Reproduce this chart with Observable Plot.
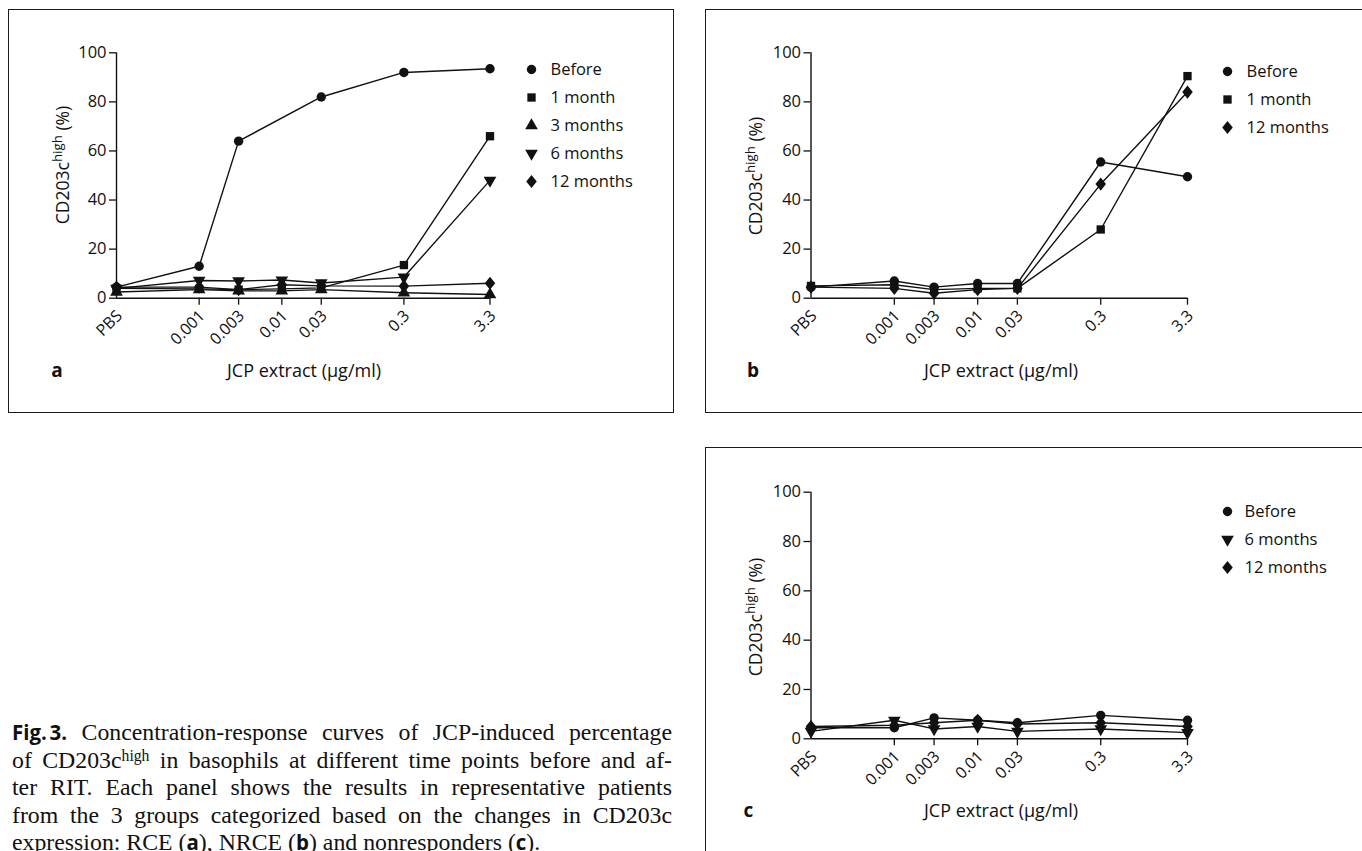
<!DOCTYPE html>
<html><head><meta charset="utf-8">
<script src="https://cdn.jsdelivr.net/npm/d3@7"></script>
<script src="https://cdn.jsdelivr.net/npm/@observablehq/plot@0.6"></script>
<style>
html,body{margin:0;padding:0;background:#fff}
body{width:1362px;height:851px;overflow:hidden;position:relative;font-family:"Open Sans",sans-serif;color:#111}
.box{position:absolute;border:1.6px solid #1a1a1a;box-sizing:border-box}
.ctr{position:absolute;transform:translate(-50%,-50%);white-space:nowrap}
.ytitle{position:absolute;transform:translate(-50%,-50%) rotate(-90deg);white-space:nowrap;font-size:17.5px}
.ytitle sup{font-size:0.76em;vertical-align:0.5em;line-height:0}
.xtitle{font-size:18px}
.letter{font-size:19px;font-weight:700}
.cap{position:absolute;left:12px;width:660px;font-family:"Liberation Serif",serif;font-size:23.8px;color:#111}
.cap div{height:27.5px;line-height:27.5px;white-space:nowrap;text-align:justify;text-align-last:justify}
.cap div.last{text-align-last:left}
.cap b{font-family:"Open Sans",sans-serif;font-weight:700;font-size:0.86em}
.cap sup{font-size:0.66em;vertical-align:0.45em;line-height:0}
</style></head><body>
<script>
// ---------- data ----------
const doseLabels = ["PBS", "0.001", "0.003", "0.01", "0.03", "0.3", "3.3"];
const doseConc   = [0, 0.001, 0.003, 0.01, 0.03, 0.3, 3.3];
const yTicks = [0, 20, 40, 60, 80, 100];

// panel a (RCE)
const seriesA = ["Before", "1 month", "3 months", "6 months", "12 months"];
const aBefore = [4.5, 13, 64, null, 82, 92, 93.5];
const a1Month = [4, 3.8, 3.5, 3.8, 4.2, 13.5, 66];
const a3Month = [2.5, 3.5, 3, 3, 3.5, 2.2, 1.5];
const a6Month = [4, 7.2, 7, 7.4, 6.2, 8.6, 48];
const a12Month = [4.5, 4.5, 3.5, 5.5, 5, 4.9, 6.1];

// panel b (NRCE)
const seriesB = ["Before", "1 month", "12 months"];
const bBefore = [4.5, 7, 4.5, 6, 6, 55.5, 49.5];
const b1Month = [5, 5.5, 3.5, 4, 4, 28, 90.5];
const b12Month = [4.5, 4, 2, 3.5, 4, 46.5, 84];

// panel c (nonresponders)
const seriesC = ["Before", "6 months", "12 months"];
const cBefore = [4.5, 4.5, 8.5, 7.5, 6.5, 9.5, 7.5];
const c6Month = [3, 7.5, 4, 5, 3, 4, 2.5];
const c12Month = [5, 5.5, 6.5, 7.5, 6, 6.5, 5];

const xTitle = "JCP extract (\u00b5g/ml)";

// ---------- helpers ----------
const triangleDown = {
  draw(context, size) {
    const y = -Math.sqrt(size / (3 * Math.sqrt(3)));
    context.moveTo(0, -y * 2);
    context.lineTo(-Math.sqrt(3) * y, y);
    context.lineTo(Math.sqrt(3) * y, y);
    context.closePath();
  }
};
const diamondWide = {
  draw(context, size) {
    const h = Math.sqrt(size / 1.6);
    const w = 0.8 * h;
    context.moveTo(0, -h);
    context.lineTo(w, 0);
    context.lineTo(0, h);
    context.lineTo(-w, 0);
    context.closePath();
  }
};
const symbolOf = {"Before": "circle", "1 month": "square", "3 months": "triangle", "6 months": triangleDown, "12 months": diamondWide};

const pbsPos = doseConc[1] / 10;               // PBS placed one decade below the lowest dose
const xPos = c => (c === 0 ? pbsPos : c);
const tickRows = doseConc.map((c, i) => ({x: xPos(c), label: doseLabels[i]}));
const FONT = "'Open Sans', sans-serif";

function el(cls, html, css) {
  const d = document.createElement("div");
  d.className = cls; d.innerHTML = html;
  Object.assign(d.style, css);
  document.body.appendChild(d);
  return d;
}

function drawPanel(g) {
  const rows = [];
  g.series.forEach((s, i) => g.values[i].forEach((v, j) => {
    if (v != null) rows.push({series: s, x: xPos(doseConc[j]), y: v});
  }));
  const mR = 20, mB = 70;
  const chart = Plot.plot({
    width: g.x1 - g.left + mR,
    height: g.yBottom - g.top + mB,
    marginLeft: g.x0 - g.left, marginRight: mR,
    marginTop: g.yTop - g.top, marginBottom: mB,
    style: {fontFamily: FONT, fontSize: "16px", color: "#111", background: "transparent", overflow: "visible"},
    x: {type: "log", domain: [pbsPos, doseConc[doseConc.length - 1]]},
    y: {domain: [0, 100]},
    symbol: {domain: g.series, range: g.series.map(s => symbolOf[s])},
    marks: [
      Plot.ruleY([0], {stroke: "#111", strokeWidth: 1.4}),
      Plot.ruleX([pbsPos], {stroke: "#111", strokeWidth: 1.4}),
      Plot.axisY({ticks: yTicks, tickSize: 7, tickPadding: 3, label: null, fontSize: 16.5, strokeWidth: 1.3}),
      Plot.axisX({ticks: tickRows.slice(1).map(d => d.x), tickSize: 7, tickFormat: () => "", label: null, strokeWidth: 1.3}),
      Plot.text(tickRows, {x: "x", text: "label", frameAnchor: "bottom", rotate: -45, textAnchor: "end",
        lineAnchor: "middle", dx: 3, dy: 15, fontSize: 16}),
      Plot.line(rows, {x: "x", y: "y", z: "series", stroke: "#111", strokeWidth: 1.4}),
      Plot.dot(rows, {x: "x", y: "y", symbol: "series", fill: "#111", stroke: "none", r: 4.7})
    ]
  });
  chart.style.position = "absolute";
  chart.style.left = g.left + "px";
  chart.style.top = g.top + "px";
  document.body.appendChild(chart);

  // legend drawn with Plot's own point + symbol scales
  const n = g.series.length, padT = 14;
  const lg = Plot.plot({
    width: 150, height: padT * 2 + (n - 1) * g.legendStep,
    margin: 0,
    style: {fontFamily: FONT, fontSize: "16px", color: "#111", background: "transparent", overflow: "visible"},
    x: {axis: null},
    y: {type: "point", padding: 0, domain: g.series, range: [padT, padT + (n - 1) * g.legendStep], axis: null},
    symbol: {domain: g.series, range: g.series.map(s => symbolOf[s])},
    marks: [
      Plot.dot(g.series, {y: d => d, symbol: d => d, fill: "#111", stroke: "none", r: 4.7, frameAnchor: "left", dx: 5}),
      Plot.text(g.series, {y: d => d, text: d => d, frameAnchor: "left", textAnchor: "start", dx: g.legendTextDx, fontSize: 16.5})
    ]
  });
  lg.style.position = "absolute";
  lg.style.left = (g.legendX - 5) + "px";
  lg.style.top = (g.legendY - padT) + "px";
  document.body.appendChild(lg);

  el("ytitle", "CD203c<sup>high</sup> (%)", {left: g.yTitleX + "px", top: g.yTitleY + "px"});
  el("ctr xtitle", xTitle, {left: g.xTitleX + "px", top: g.xTitleY + "px"});
  el("ctr letter", g.letter, {left: g.letterX + "px", top: g.xTitleY + "px"});
}

// ---------- frames ----------
el("box", "", {left: "8px", top: "9px", width: "666px", height: "404px"});
el("box", "", {left: "705px", top: "9px", width: "700px", height: "404px"});
el("box", "", {left: "705px", top: "447px", width: "700px", height: "450px"});

drawPanel({letter: "a", series: seriesA, values: [aBefore, a1Month, a3Month, a6Month, a12Month],
  left: 0, top: 0, x0: 116, x1: 489.5, yTop: 52.3, yBottom: 297.7,
  legendX: 531, legendY: 68.3, legendStep: 28.3, legendTextDx: 24,
  yTitleX: 61.7, yTitleY: 165, xTitleX: 304, xTitleY: 370, letterX: 57});

drawPanel({letter: "b", series: seriesB, values: [bBefore, b1Month, b12Month],
  left: 700, top: 0, x0: 810.5, x1: 1187, yTop: 52.3, yBottom: 297.7,
  legendX: 1227, legendY: 71, legendStep: 28.3, legendTextDx: 24,
  yTitleX: 755, yTitleY: 176, xTitleX: 1001, xTitleY: 370, letterX: 753});

drawPanel({letter: "c", series: seriesC, values: [cBefore, c6Month, c12Month],
  left: 700, top: 440, x0: 810.5, x1: 1187, yTop: 491.7, yBottom: 738.3,
  legendX: 1227, legendY: 510, legendStep: 28.5, legendTextDx: 22,
  yTitleX: 755, yTitleY: 617, xTitleX: 1001, xTitleY: 810, letterX: 748.5});

// ---------- caption ----------
const capLines = [
  "<b>Fig.\u202f3.</b> Concentration-response curves of JCP-induced percentage",
  "of CD203c<sup>high</sup> in basophils at different time points before and af-",
  "ter RIT. Each panel shows the results in representative patients",
  "from the 3 groups categorized based on the changes in CD203c",
  "expression: RCE (<b>a</b>), NRCE (<b>b</b>) and nonresponders (<b>c</b>)."
];
const cap = el("cap", "", {top: (733 - 13.75) + "px"});
capLines.forEach((t, i) => {
  const d = document.createElement("div");
  d.innerHTML = t;
  if (i === capLines.length - 1) d.className = "last";
  cap.appendChild(d);
});
</script>
</body></html>
